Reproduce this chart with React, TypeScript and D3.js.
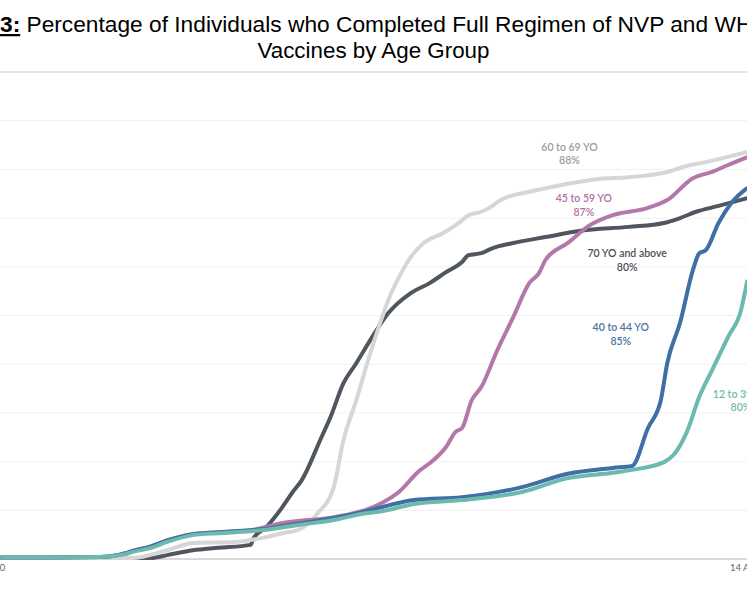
import React from 'react';
import * as d3 from 'd3';

// values: [date, % fully vaccinated]
const age12to39: [string, number][] = [
    ['2020-12-21', 0.3], ['2021-01-21', 0.4], ['2021-01-29', 1.0], ['2021-01-31', 1.4],
    ['2021-02-06', 2.3], ['2021-02-11', 3.5], ['2021-02-19', 4.9], ['2021-02-27', 5.3],
    ['2021-03-09', 5.7], ['2021-03-14', 6.0], ['2021-03-24', 7.0], ['2021-04-04', 8.0],
    ['2021-04-14', 9.4], ['2021-04-18', 9.7], ['2021-04-29', 11.3], ['2021-05-14', 12.1],
    ['2021-06-02', 13.8], ['2021-06-16', 16.6], ['2021-06-30', 17.7], ['2021-07-06', 18.3],
    ['2021-07-16', 19.9], ['2021-07-19', 21.4], ['2021-07-23', 25.9], ['2021-07-27', 33.3],
    ['2021-07-31', 38.8], ['2021-08-05', 45.6], ['2021-08-09', 51.1], ['2021-08-11', 57.3],
];

const age40to44: [string, number][] = [
    ['2020-12-21', 0.3], ['2021-01-21', 0.4], ['2021-01-29', 1.2], ['2021-01-31', 1.6],
    ['2021-02-06', 2.6], ['2021-02-11', 3.8], ['2021-02-19', 5.1], ['2021-02-27', 5.5],
    ['2021-03-09', 5.9], ['2021-03-14', 6.2], ['2021-03-24', 7.3], ['2021-04-04', 8.4],
    ['2021-04-14', 9.8], ['2021-04-18', 10.5], ['2021-04-29', 12.1], ['2021-05-14', 12.7],
    ['2021-06-02', 14.8], ['2021-06-16', 17.5], ['2021-06-30', 18.7], ['2021-07-06', 19.1],
    ['2021-07-11', 26.9], ['2021-07-15', 32.6], ['2021-07-17', 40.2], ['2021-07-21', 48.5],
    ['2021-07-25', 59.3], ['2021-07-27', 62.8], ['2021-07-29', 63.4], ['2021-08-02', 69.0],
    ['2021-08-06', 73.1], ['2021-08-11', 76.2],
];

const age45to59: [string, number][] = [
    ['2020-12-21', 0.3], ['2021-01-21', 0.4], ['2021-01-29', 1.2], ['2021-01-31', 1.6],
    ['2021-02-06', 2.6], ['2021-02-11', 3.8], ['2021-02-19', 5.1], ['2021-02-27', 5.5],
    ['2021-03-09', 5.9], ['2021-03-19', 7.4], ['2021-04-04', 8.6], ['2021-04-14', 10.1],
    ['2021-04-19', 11.5], ['2021-04-24', 13.6], ['2021-05-01', 18.3], ['2021-05-04', 19.7],
    ['2021-05-09', 23.0], ['2021-05-12', 26.1], ['2021-05-14', 26.9], ['2021-05-17', 32.6],
    ['2021-05-20', 35.3], ['2021-05-25', 42.9], ['2021-05-30', 49.7], ['2021-06-04', 56.7],
    ['2021-06-07', 58.7], ['2021-06-09', 61.4], ['2021-06-16', 64.9], ['2021-06-23', 68.6],
    ['2021-06-30', 70.6], ['2021-07-11', 72.1], ['2021-07-17', 73.7], ['2021-07-25', 78.2],
    ['2021-07-31', 79.5], ['2021-08-05', 80.9], ['2021-08-11', 82.5],
];

const age60to69: [string, number][] = [
    ['2020-12-21', 0.2], ['2021-01-31', 0.2], ['2021-02-11', 1.8], ['2021-02-19', 3.3],
    ['2021-03-04', 3.5], ['2021-03-09', 3.9], ['2021-03-14', 4.5], ['2021-03-19', 5.3],
    ['2021-03-24', 6.0], ['2021-03-30', 9.4], ['2021-04-04', 14.8], ['2021-04-07', 24.4],
    ['2021-04-11', 32.6], ['2021-04-15', 41.5], ['2021-04-18', 47.6], ['2021-04-21', 53.2],
    ['2021-04-25', 58.7], ['2021-04-28', 62.0], ['2021-05-02', 64.9], ['2021-05-08', 66.9],
    ['2021-05-13', 69.0], ['2021-05-16', 70.6], ['2021-05-20', 71.3], ['2021-05-23', 72.3],
    ['2021-05-26', 73.7], ['2021-06-04', 75.4], ['2021-06-14', 76.8], ['2021-06-25', 78.0],
    ['2021-07-05', 78.4], ['2021-07-16', 79.3], ['2021-07-23', 80.7], ['2021-07-29', 81.5],
    ['2021-08-11', 83.6],
];

const age70plus: [string, number][] = [
    ['2020-12-21', 0.2], ['2021-02-06', 0.2], ['2021-02-11', 0.8], ['2021-02-19', 1.8],
    ['2021-02-27', 2.3], ['2021-03-09', 2.9], ['2021-03-10', 4.3], ['2021-03-14', 6.6],
    ['2021-03-19', 10.7], ['2021-03-22', 13.6], ['2021-03-25', 16.2], ['2021-03-31', 24.8],
    ['2021-04-03', 29.2], ['2021-04-07', 36.1], ['2021-04-11', 40.2], ['2021-04-16', 45.6],
    ['2021-04-21', 50.5], ['2021-04-28', 54.6], ['2021-05-04', 56.7], ['2021-05-09', 58.9],
    ['2021-05-14', 61.0], ['2021-05-16', 62.4], ['2021-05-20', 62.8], ['2021-05-23', 63.7],
    ['2021-05-30', 64.9], ['2021-06-09', 66.1], ['2021-06-20', 67.4], ['2021-07-05', 68.2],
    ['2021-07-16', 69.0], ['2021-07-21', 70.0], ['2021-07-26', 71.3], ['2021-08-02', 72.5],
    ['2021-08-11', 74.1],
];

const groupNames = ['70 YO and above', '60 to 69 YO', '45 to 59 YO', '40 to 44 YO', '12 to 39 YO'];
const groupSeries = [age70plus, age60to69, age45to59, age40to44, age12to39];
const groupLatest = ['80%', '88%', '87%', '85%', '80%'];
// where each label sits (date, %)
const labelDates = ['2021-07-04T12', '2021-06-16T12', '2021-06-21T00', '2021-07-02T12', '2021-08-09T00'];
const labelLevels = [62.8, 84.6, 74.1, 47.6, 33.9];

const xTicks = ['2020-12-14', '2021-08-14'];
const yTicks = d3.range(0, 101, 10);

const lineColors = ['#50565d', '#d6d6d6', '#b577a7', '#3f70a5', '#6cb9ae'];
const labelColors = ['#4d4f52', '#9b9b9b', '#b36fa4', '#4a74a5', '#72b8ae'];

const W = 747;
const H = 598;

const parseDay = d3.timeParse('%Y-%m-%d');
const parseHour = d3.timeParse('%Y-%m-%dT%H');

const x = d3.scaleTime()
    .domain([parseDay('2020-12-14') as Date, parseDay('2021-08-14') as Date])
    .range([-22, 757]);
const y = d3.scaleLinear().domain([0, 100]).range([559, 72]);

const line = d3.line<[string, number]>()
    .x(d => x(parseDay(d[0]) as Date))
    .y(d => y(d[1]))
    .curve(d3.curveMonotoneX);

const tickFmt = d3.timeFormat('%-d %b %Y');

export default function App() {
    return (
        <div style={{ position: 'absolute', left: 0, top: 0 }}>
            <svg width={W} height={H} style={{ display: 'block', background: '#fff' }}>
                {/* title */}
                <g fontFamily="'Liberation Sans', Arial, sans-serif" fill="#000">
                    <text x={0} y={32} fontSize={22.5} textLength={770} lengthAdjust="spacingAndGlyphs">
                        <tspan fontWeight="bold" textDecoration="underline">3:</tspan>
                        <tspan> Percentage of Individuals who Completed Full Regimen of NVP and WHO</tspan>
                    </text>
                    <text x={W / 2} y={58} fontSize={22.5} textAnchor="middle" textLength={232} lengthAdjust="spacingAndGlyphs">
                        Vaccines by Age Group
                    </text>
                </g>

                {/* grid */}
                {yTicks.map(t => (
                    <line key={t} x1={0} x2={W} y1={y(t)} y2={y(t)}
                        stroke={t === 100 ? '#e2e2e2' : t === 0 ? '#d8d8d8' : '#f1f1f1'}
                        strokeWidth={t === 100 || t === 0 ? 2 : 1} />
                ))}

                {/* x tick labels */}
                {xTicks.map(t => (
                    <text key={t} x={x(parseDay(t) as Date)} y={571} textAnchor="middle"
                        fontFamily="Lato, sans-serif" fontSize={9.5} fill="#666">
                        {tickFmt(parseDay(t) as Date)}
                    </text>
                ))}

                {/* lines */}
                {groupSeries.map((s, i) => (
                    <path key={groupNames[i]} d={line(s) || ''} fill="none"
                        stroke={lineColors[i]} strokeWidth={4} strokeLinejoin="round" />
                ))}

                {/* labels */}
                {groupNames.map((name, i) => {
                    const lx = x(parseHour(labelDates[i]) as Date);
                    const ly = y(labelLevels[i]);
                    return (
                        <g key={name} fontFamily="Lato, sans-serif" fontSize={10.5} fontWeight={600}
                            fill={labelColors[i]} textAnchor="middle">
                            <text x={lx} y={ly} dominantBaseline="central">{name}</text>
                            <text x={lx} y={ly + 13.5} dominantBaseline="central">{groupLatest[i]}</text>
                        </g>
                    );
                })}
            </svg>
        </div>
    );
}
